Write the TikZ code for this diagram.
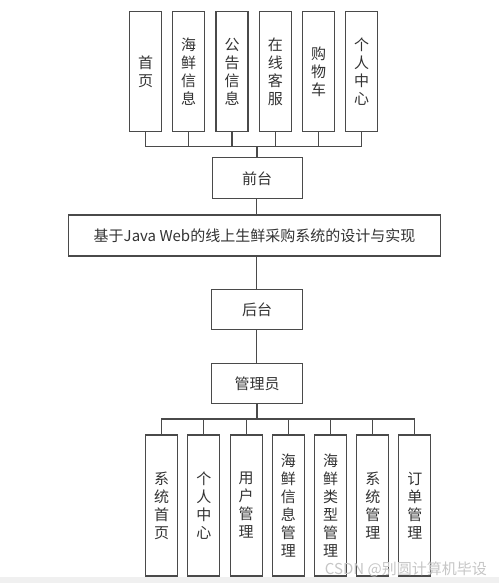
\documentclass[tikz,border=0pt]{standalone}
\usepackage{fontspec}
\newfontfamily\cjk{Noto Sans CJK SC}
\definecolor{ln}{HTML}{4A4A4A}
\definecolor{tx}{HTML}{333333}
\begin{document}
\begin{tikzpicture}[x=1pt,y=-1pt,
  box/.style={draw=ln,line width=1.2pt,fill=white,text=tx,inner sep=0pt,font=\cjk\fontsize{15}{18}\selectfont,align=center},
  vbox/.style={box,minimum width=32pt},
  wire/.style={draw=ln,line width=1.2pt},
  trunk/.style={draw=ln,line width=2pt}]
\useasboundingbox (0,0) rectangle (499,583);
\fill[white] (0,0) rectangle (499,583);
\fill[gray!12] (0,577) rectangle (499,583);
% top boxes
\foreach \i/\x/\t in {1/145.5/首\\页,2/188.5/海\\鲜\\信\\息,3/232/公\\告\\信\\息,4/275.3/在\\线\\客\\服,5/318.5/购\\物\\车,6/361.7/个\\人\\中\\心}
  \node[vbox,minimum height=120pt] (t\i) at (\x,71.7) {\t};
\node[box,minimum width=90pt,minimum height=41pt] (qt) at (257.2,178.3) {前台};
\node[box,minimum width=372pt,minimum height=41pt] (main) at (254.5,235.5) {基于Java Web的线上生鲜采购系统的设计与实现};
\node[box,minimum width=90.6pt,minimum height=40pt] (ht) at (257,309.3) {后台};
\node[box,minimum width=90.6pt,minimum height=40pt] (gly) at (257,383.3) {管理员};
\foreach \i/\x/\t in {1/161.7/系\\统\\首\\页,2/203.8/个\\人\\中\\心,3/246.2/用\\户\\管\\理,4/288.3/海\\鲜\\信\\息\\管\\理,5/330.5/海\\鲜\\类\\型\\管\\理,6/372.8/系\\统\\管\\理,7/414.8/订\\单\\管\\理}
  \node[vbox,minimum height=141pt] (b\i) at (\x,505.5) {\t};
% connectors
\coordinate (busT) at (256.7,146.7);
\coordinate (busB) at (256.7,419);
\foreach \i in {1,...,6} \draw[wire] (t\i.south) |- (busT);
\draw[trunk] (busT) -- (busT |- qt.north);
\draw[wire] (qt.south -| busT) -- (main.north -| busT);
\draw[wire] (main.south -| busT) -- (ht.north -| busT);
\draw[wire] (ht.south -| busT) -- (gly.north -| busT);
\draw[trunk] (gly.south -| busB) -- (busB);
\foreach \i in {1,...,7} \draw[wire] (b\i.north) |- (busB);
% watermark
\node[text=gray!45,font=\cjk\fontsize{15}{15}\selectfont,anchor=east,inner sep=0pt] (wm) at (487,569) {CSDN @别圆计算机毕设};
\end{tikzpicture}
\end{document}
